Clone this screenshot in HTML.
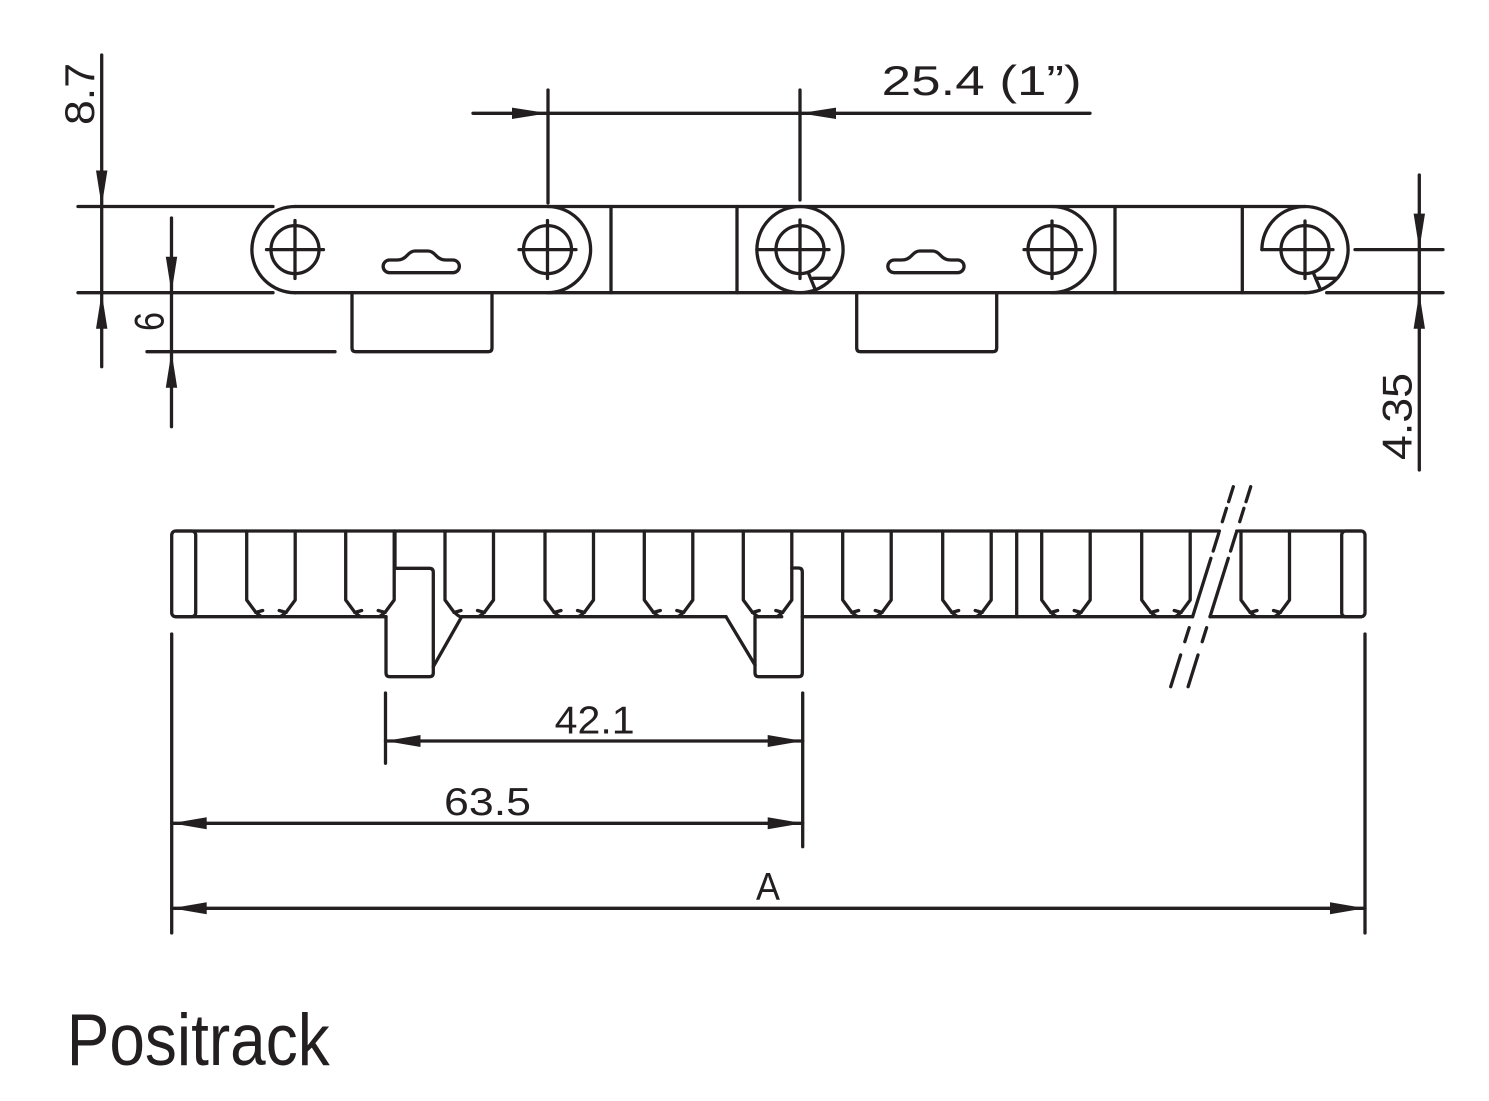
<!DOCTYPE html>
<html>
<head>
<meta charset="utf-8">
<style>
  html, body { margin: 0; padding: 0; background: #ffffff; }
  body { width: 1489px; height: 1101px; overflow: hidden; }
  svg { display: block; }
  text { font-family: "Liberation Sans", "DejaVu Sans", sans-serif; fill: #231f20; }
</style>
</head>
<body>
<svg width="1489" height="1101" viewBox="0 0 1489 1101" xmlns="http://www.w3.org/2000/svg">
  <rect x="0" y="0" width="1489" height="1101" fill="#ffffff"/>

  <!-- ================= TOP VIEW ================= -->
  <g stroke="#231f20" stroke-width="3.3" fill="none" stroke-linecap="round" stroke-linejoin="round">
    <path d="M78,206.5 H273 M78,292.7 H273"/>
    <path d="M101.7,55 V366.7"/>
    <path d="M171.5,218 V426.7 M147,351.7 H335"/>

    <path d="M295,206.5 H1305 M295,292.7 H1306"/>

    <path d="M295,206.5 A43.1,43.1 0 0 0 295,292.7"/>
    <path d="M547.5,206.5 A43.1,43.1 0 0 1 547.5,292.7"/>
    <path d="M1052,206.5 A43.1,43.1 0 0 1 1052,292.7"/>

    <path d="M611,206.5 V292.7 M737,206.5 V292.7 M1115,206.5 V292.7 M1242.3,206.5 V292.7"/>

    <circle cx="800" cy="249.6" r="43.1"/>
    <path d="M1261.9,249.6 A43.1,43.1 0 1 1 1305,292.7"/>

    <circle cx="295" cy="249.6" r="24"/>
    <circle cx="547.5" cy="249.6" r="24"/>
    <circle cx="800" cy="249.6" r="24"/>
    <circle cx="1052" cy="249.6" r="24"/>
    <circle cx="1305" cy="249.6" r="24"/>

    <path d="M266.5,249.6 H323.5 M295,220.5 V278.5"/>
    <path d="M519,249.6 H576 M547.5,220.5 V278.5"/>
    <path d="M756.9,249.6 H829 M800,220 V278.5"/>
    <path d="M1024,249.6 H1081.5 M1052,221 V278.5"/>
    <path d="M1261.9,249.6 H1333 M1305,221 V278.5"/>

    <path d="M808.3,272.7 L815,289 M813.3,278.3 H831.7"/>
    <path d="M1313.3,272.7 L1320,288.5 M1317.7,278.3 H1336.7"/>

    <path d="M389.5,260 L397,260 Q403,260 407,255.5 Q411,251 415,251 L428,251 Q432,251 436,255.5 Q440,260 446,260 L453,260 A6.35,6.35 0 0 1 453,272.7 L389.5,272.7 A6.35,6.35 0 0 1 389.5,260 Z"/>
    <path d="M894.2,260 L901.7,260 Q907.7,260 911.7,255.5 Q915.7,251 919.7,251 L932.7,251 Q936.7,251 940.7,255.5 Q944.7,260 950.7,260 L957.7,260 A6.35,6.35 0 0 1 957.7,272.7 L894.2,272.7 A6.35,6.35 0 0 1 894.2,260 Z"/>

    <path d="M352,292.7 V347.7 Q352,351.7 356,351.7 H488 Q492,351.7 492,347.7 V292.7"/>
    <path d="M856.7,292.7 V347.7 Q856.7,351.7 860.7,351.7 H992.7 Q996.7,351.7 996.7,347.7 V292.7"/>

    <path d="M473,113.3 H1090 M548,90 V203 M800,90 V200"/>

    <path d="M1355,249.6 H1443 M1326.7,292.7 H1443 M1419.3,175 V470"/>
  </g>

  <g fill="#231f20" stroke="none">
    <polygon points="101.7,206.5 96,170.5 107.4,170.5"/>
    <polygon points="101.7,292.7 96,328.7 107.4,328.7"/>
    <polygon points="171.5,292.7 165.8,256.7 177.2,256.7"/>
    <polygon points="171.5,351.7 165.8,387.7 177.2,387.7"/>
    <polygon points="548,113.3 512,107.6 512,119"/>
    <polygon points="800,113.3 836,107.6 836,119"/>
    <polygon points="1419.3,249.6 1413.6,213.6 1425,213.6"/>
    <polygon points="1419.3,292.7 1413.6,328.7 1425,328.7"/>
  </g>

  <text font-size="42" transform="translate(94,125) rotate(-90)" textLength="62" lengthAdjust="spacingAndGlyphs">8.7</text>
  <text font-size="42" transform="translate(163.3,331) rotate(-90)" textLength="19" lengthAdjust="spacingAndGlyphs">6</text>
  <text font-size="42" transform="translate(1411.7,460) rotate(-90)" textLength="87" lengthAdjust="spacingAndGlyphs">4.35</text>
  <text font-size="42" x="881.7" y="95" textLength="200" lengthAdjust="spacingAndGlyphs">25.4 (1”)</text>

  <!-- ================= SIDE VIEW ================= -->
  <g stroke="#231f20" stroke-width="3.3" fill="none" stroke-linecap="round" stroke-linejoin="round">
    <path d="M176,531 H1219.4 M1236.7,531 H1361"/>
    <rect x="171.7" y="531" width="24" height="85.7" rx="4" ry="4"/>
    <rect x="1341.7" y="531" width="23.3" height="85.7" rx="4" ry="4"/>
    <path d="M176,616.7 H386 M461.7,616.7 H726 M756.7,616.7 H781.7 M802.3,616.7 H1192.6 M1210,616.7 H1361"/>
    <path d="M1016.7,531 V616.7"/>

    <path d="M246.7,531 V600 L255.2,611.5 Q258.7,615 261.7,616.7 M255.7,612.5 L262.7,610.5 M295.2,531 V600 L286.7,611.5 Q283.2,615 280.2,616.7 M286.2,612.5 L279.2,610.5"/>
    <path d="M345.7,531 V600 L354.2,611.5 Q357.7,615 360.7,616.7 M354.7,612.5 L361.7,610.5 M394.2,531 V600 L385.7,611.5 Q382.2,615 379.2,616.7 M385.2,612.5 L378.2,610.5"/>
    <path d="M445,531 V600 L453.5,611.5 Q457,615 460,616.7 M454,612.5 L461,610.5 M493.5,531 V600 L485,611.5 Q481.5,615 478.5,616.7 M484.5,612.5 L477.5,610.5"/>
    <path d="M545,531 V600 L553.5,611.5 Q557,615 560,616.7 M554,612.5 L561,610.5 M593.5,531 V600 L585,611.5 Q581.5,615 578.5,616.7 M584.5,612.5 L577.5,610.5"/>
    <path d="M644.3,531 V600 L652.8,611.5 Q656.3,615 659.3,616.7 M653.3,612.5 L660.3,610.5 M692.8,531 V600 L684.3,611.5 Q680.8,615 677.8,616.7 M683.8,612.5 L676.8,610.5"/>
    <path d="M743.3,531 V600 L751.8,611.5 Q755.3,615 758.3,616.7 M752.3,612.5 L759.3,610.5 M791.8,531 V600 L783.3,611.5 Q779.8,615 776.8,616.7 M782.8,612.5 L775.8,610.5"/>
    <path d="M842.7,531 V600 L851.2,611.5 Q854.7,615 857.7,616.7 M851.7,612.5 L858.7,610.5 M891.2,531 V600 L882.7,611.5 Q879.2,615 876.2,616.7 M882.2,612.5 L875.2,610.5"/>
    <path d="M942.7,531 V600 L951.2,611.5 Q954.7,615 957.7,616.7 M951.7,612.5 L958.7,610.5 M991.2,531 V600 L982.7,611.5 Q979.2,615 976.2,616.7 M982.2,612.5 L975.2,610.5"/>
    <path d="M1041.7,531 V600 L1050.2,611.5 Q1053.7,615 1056.7,616.7 M1050.7,612.5 L1057.7,610.5 M1090.2,531 V600 L1081.7,611.5 Q1078.2,615 1075.2,616.7 M1081.2,612.5 L1074.2,610.5"/>
    <path d="M1141.7,531 V600 L1150.2,611.5 Q1153.7,615 1156.7,616.7 M1150.7,612.5 L1157.7,610.5 M1190.2,531 V600 L1181.7,611.5 Q1178.2,615 1175.2,616.7 M1181.2,612.5 L1174.2,610.5"/>
    <path d="M1241,531 V600 L1249.5,611.5 Q1253,615 1256,616.7 M1250,612.5 L1257,610.5 M1289.5,531 V600 L1281,611.5 Q1277.5,615 1274.5,616.7 M1280.5,612.5 L1273.5,610.5"/>

    <path d="M395,531 V568.3 H429.3 Q433.3,568.3 433.3,572.3 V672.7 Q433.3,676.7 429.3,676.7 H390 Q386,676.7 386,672.7 V616.7"/>
    <path d="M433.3,666.7 L461.7,616.7"/>
    <path d="M791.8,568 H798.3 Q802.3,568 802.3,572 V672.7 Q802.3,676.7 798.3,676.7 H759 Q755,676.7 755,672.7 V616.7"/>
    <path d="M726,616.7 L755,665"/>

    <path d="M1170.7,686.7 L1180.6,655 M1184.8,641.7 L1189.2,627.7 M1192.6,616.7 L1210.9,558.3 M1213.2,551 L1218.8,533 M1222.3,521.7 L1226.5,508.3 M1228.6,501.7 L1233.3,486.7"/>
    <path d="M1188.1,686.7 L1198,655 M1202.2,641.7 L1206.6,627.7 M1210,616.7 L1228.3,558.3 M1230.6,551 L1236.2,533 M1239.7,521.7 L1243.9,508.3 M1246,501.7 L1250.7,486.7"/>

    <path d="M171.7,634 V933 M1365,634 V933"/>
    <path d="M385.5,693 V763.3 M802.7,693 V846.7"/>
    <path d="M385.5,741 H802.7 M171.7,823.3 H802.7 M171.7,908.3 H1365"/>
  </g>

  <g fill="#231f20" stroke="none">
    <polygon points="385.5,741 420.5,735 420.5,747"/>
    <polygon points="802.7,741 767.7,735 767.7,747"/>
    <polygon points="171.7,823.3 206.7,817.3 206.7,829.3"/>
    <polygon points="802.7,823.3 767.7,817.3 767.7,829.3"/>
    <polygon points="171.7,908.3 206.7,902.3 206.7,914.3"/>
    <polygon points="1365,908.3 1330,902.3 1330,914.3"/>
  </g>

  <text font-size="39" x="554.6" y="733.3" textLength="80" lengthAdjust="spacingAndGlyphs">42.1</text>
  <text font-size="39" x="444" y="815" textLength="87" lengthAdjust="spacingAndGlyphs">63.5</text>
  <text font-size="39" x="756" y="900" textLength="24" lengthAdjust="spacingAndGlyphs">A</text>

  <text font-size="73" x="66.7" y="1065" textLength="263" lengthAdjust="spacingAndGlyphs">Positrack</text>
</svg>
</body>
</html>
